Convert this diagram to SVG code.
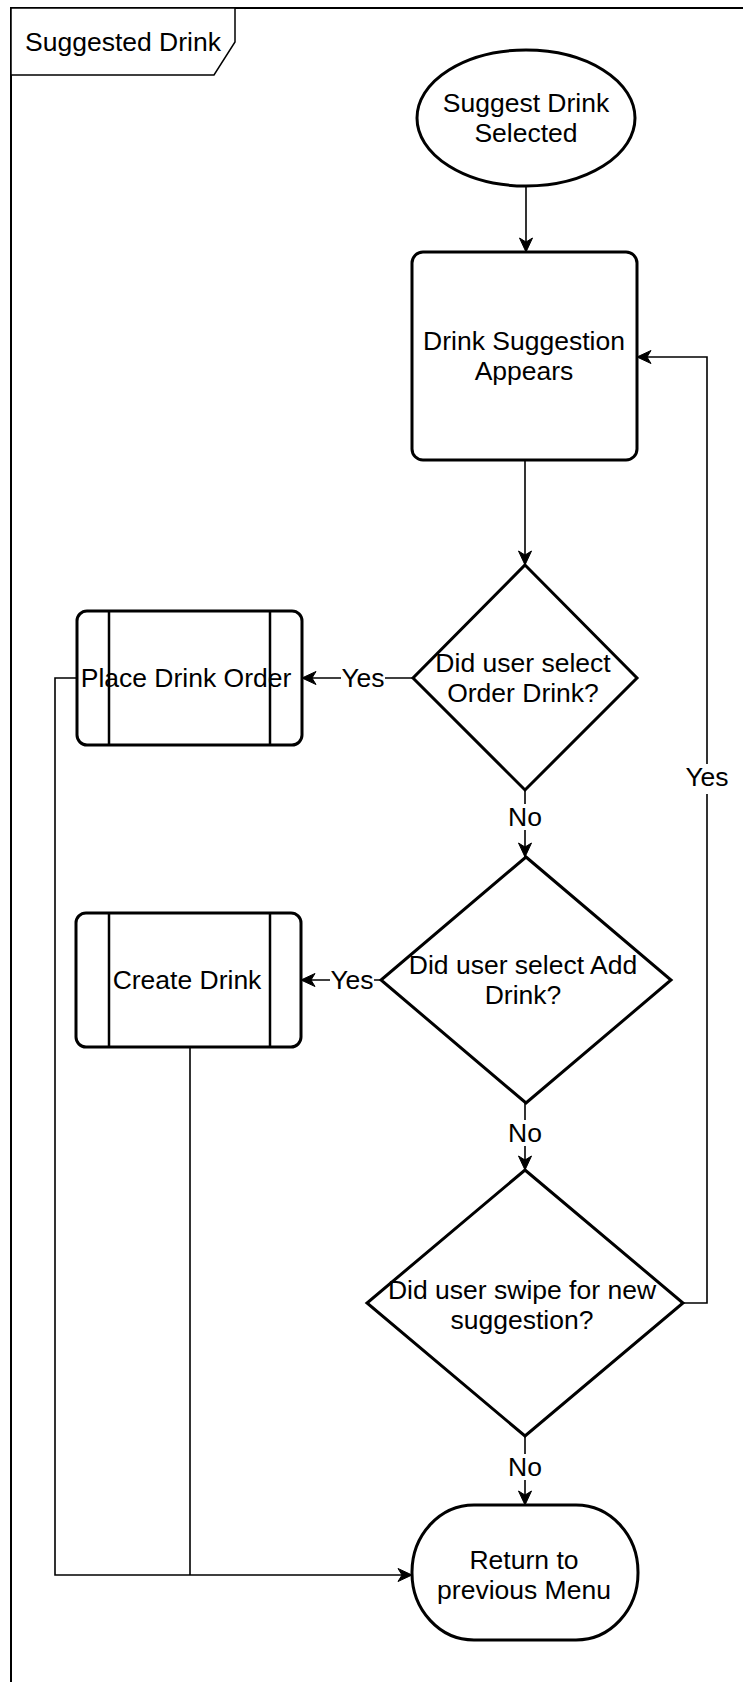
<svg xmlns="http://www.w3.org/2000/svg" width="743" height="1682" viewBox="0 0 743 1682">
<style>
  text { font-family: "Liberation Sans", Arial, Helvetica, sans-serif; font-size: 26.5px; fill: #000; }
  .c { text-anchor: middle; }
  .node { fill: #fff; stroke: #000; stroke-width: 3; }
  .inner { fill: none; stroke: #000; stroke-width: 2.5; }
  .edge { fill: none; stroke: #000; stroke-width: 1.6; }
  .lbl { fill: #fff; stroke: none; }
  .frame { fill: none; stroke: #000; stroke-width: 2; }
  .tab { fill: #fff; stroke: #000; stroke-width: 1.5; }
</style>
<defs>
  <marker id="arrow" markerUnits="userSpaceOnUse" markerWidth="16" markerHeight="16" viewBox="0 0 16 16" refX="15" refY="8" orient="auto">
    <path d="M1,1.5 L15,8 L1,14.5 L5,8 Z" fill="#000" stroke="#000" stroke-width="1"/>
  </marker>
</defs>
<rect width="743" height="1682" fill="#fff"/>

<g id="frame">
  <path class="frame" d="M11,1690 L11,8 L750,8"/>
  <path class="tab" d="M11,8 L235,8 L235,42 L214,75 L11,75 Z"/>
  <text x="25" y="51">Suggested Drink</text>
</g>

<g id="connectors">
  <line class="edge" x1="526" y1="187" x2="526" y2="252" marker-end="url(#arrow)"/>
  <line class="edge" x1="525" y1="460" x2="525" y2="565" marker-end="url(#arrow)"/>
  <line class="edge" x1="413" y1="678" x2="302" y2="678" marker-end="url(#arrow)"/>
  <line class="edge" x1="525" y1="790" x2="525" y2="857" marker-end="url(#arrow)"/>
  <line class="edge" x1="381" y1="980" x2="301" y2="980" marker-end="url(#arrow)"/>
  <line class="edge" x1="525" y1="1103" x2="525" y2="1170" marker-end="url(#arrow)"/>
  <polyline class="edge" points="683,1303 707,1303 707,357 637,357" marker-end="url(#arrow)"/>
  <line class="edge" x1="525" y1="1436" x2="525" y2="1505" marker-end="url(#arrow)"/>
  <polyline class="edge" points="77,678 55,678 55,1575 412,1575" marker-end="url(#arrow)"/>
  <line class="edge" x1="190" y1="1047" x2="190" y2="1575"/>
  <g id="edge-labels">
    <rect class="lbl" x="341" y="665" width="44" height="26"/>
    <text class="c" x="363" y="687">Yes</text>
    <rect class="lbl" x="330" y="967" width="44" height="26"/>
    <text class="c" x="352" y="989">Yes</text>
    <rect class="lbl" x="509" y="804" width="33" height="26"/>
    <text class="c" x="525" y="826">No</text>
    <rect class="lbl" x="509" y="1120" width="33" height="26"/>
    <text class="c" x="525" y="1142">No</text>
    <rect class="lbl" x="509" y="1454" width="33" height="26"/>
    <text class="c" x="525" y="1476">No</text>
    <rect class="lbl" x="684" y="764" width="46" height="30"/>
    <text class="c" x="707" y="786">Yes</text>
  </g>
</g>

<g id="suggest-drink-selected">
  <ellipse class="node" cx="526" cy="118" rx="109" ry="68"/>
  <text class="c" x="526" y="112">Suggest Drink</text>
  <text class="c" x="526" y="142">Selected</text>
</g>

<g id="drink-suggestion-appears">
  <rect class="node" x="412" y="252" width="225" height="208" rx="11" ry="11"/>
  <text class="c" x="524" y="350">Drink Suggestion</text>
  <text class="c" x="524" y="380">Appears</text>
</g>

<g id="order-drink-decision">
  <polygon class="node" points="525,565 637,678 525,790 413,678"/>
  <text class="c" x="523" y="672">Did user select</text>
  <text class="c" x="523" y="702">Order Drink?</text>
</g>

<g id="place-drink-order">
  <rect class="node" x="77" y="611" width="225" height="134" rx="10" ry="10"/>
  <line class="inner" x1="109" y1="611" x2="109" y2="745"/>
  <line class="inner" x1="270" y1="611" x2="270" y2="745"/>
  <text class="c" x="186" y="687">Place Drink Order</text>
</g>

<g id="add-drink-decision">
  <polygon class="node" points="526,857 671,980 526,1103 381,980"/>
  <text class="c" x="523" y="974">Did user select Add</text>
  <text class="c" x="523" y="1004">Drink?</text>
</g>

<g id="create-drink">
  <rect class="node" x="76" y="913" width="225" height="134" rx="10" ry="10"/>
  <line class="inner" x1="109" y1="913" x2="109" y2="1047"/>
  <line class="inner" x1="270" y1="913" x2="270" y2="1047"/>
  <text class="c" x="187" y="989">Create Drink</text>
</g>

<g id="swipe-decision">
  <polygon class="node" points="525,1170 683,1303 525,1436 367,1303"/>
  <text class="c" x="522" y="1299">Did user swipe for new</text>
  <text class="c" x="522" y="1329">suggestion?</text>
</g>

<g id="return-previous-menu">
  <rect class="node" x="412" y="1505" width="226" height="135" rx="62" ry="67"/>
  <text class="c" x="524" y="1569">Return to</text>
  <text class="c" x="524" y="1599">previous Menu</text>
</g>
</svg>
